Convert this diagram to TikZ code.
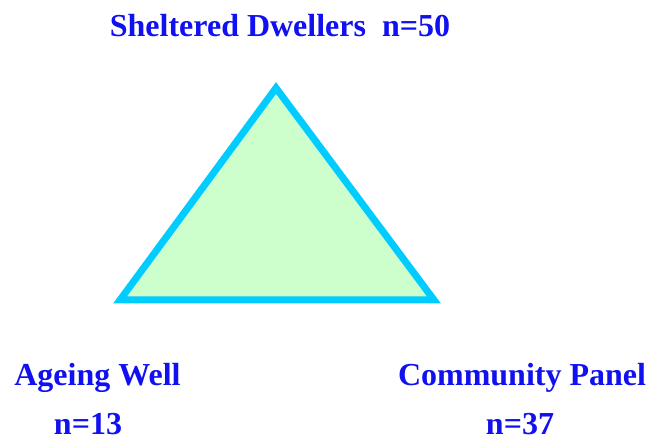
\documentclass[tikz,border=0pt]{standalone}
\usepackage{fontspec}
\setmainfont{Liberation Serif}
\usepackage{tikz}
\usetikzlibrary{positioning}
\definecolor{labelblue}{RGB}{16,16,240}
\definecolor{edgecyan}{RGB}{0,204,255}
\definecolor{fillgreen}{RGB}{204,255,204}
\tikzset{
  grouplabel/.style={anchor=base,inner sep=0pt,text=labelblue,font=\fontsize{32}{38}\selectfont\bfseries}
}

\begin{document}
\begin{tikzpicture}[x=1pt,y=1pt]
  \useasboundingbox (0,0) rectangle (649,443);
  % corners of the triangle
  \coordinate (top) at (276,355);
  \coordinate (left) at (120,143);
  \coordinate (right) at (434,143);
  \draw[line width=7pt,line join=miter,draw=edgecyan,fill=fillgreen] (top) -- (left) -- (right) -- cycle;
  % group labels
  \node[grouplabel] (sheltered) at (280,406) {Sheltered Dwellers\ \ n=50};
  \node[grouplabel] (ageing) at (97.5,57) {Ageing Well};
  \node[grouplabel] (ageingn) at (88,8) {n=13};
  \node[grouplabel] (community) at (522,57) {Community Panel};
  \node[grouplabel] (communityn) at (520,8) {n=37};
\end{tikzpicture}
\end{document}
